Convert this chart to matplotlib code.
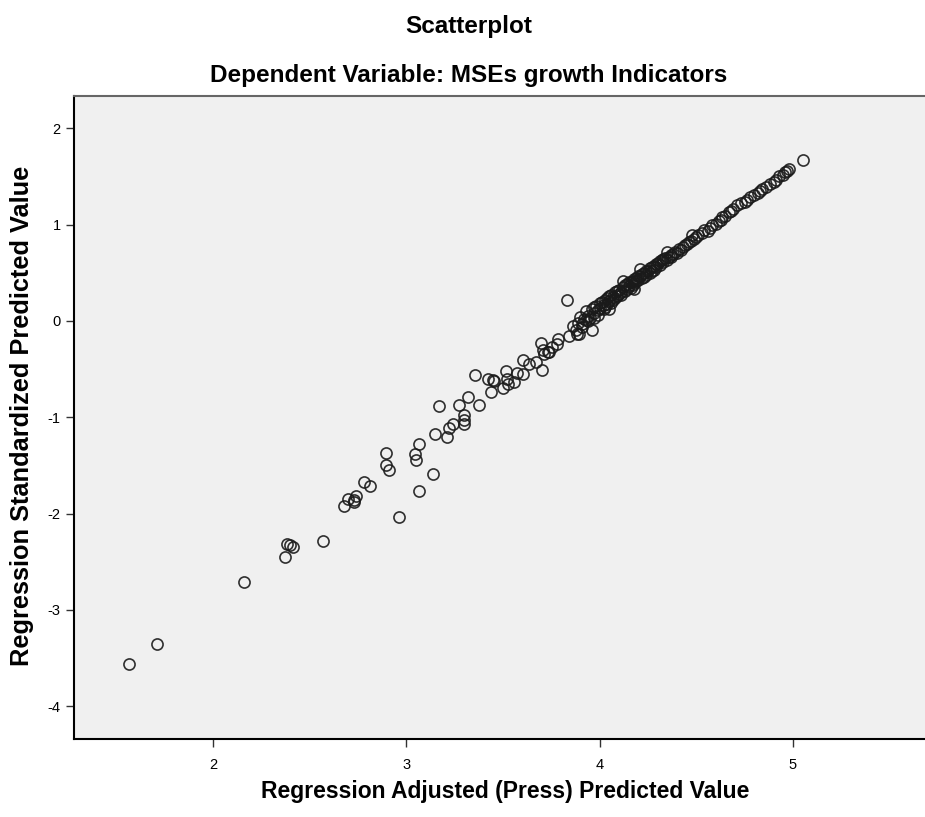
import matplotlib
matplotlib.use('Agg')
import matplotlib.pyplot as plt

plt.rcParams['font.family'] = ['Liberation Sans', 'DejaVu Sans']
plt.rcParams['axes.unicode_minus'] = False

#
# Data
#

# scattered lower tail
tail_x = [1.565, 1.710, 2.158, 2.375, 2.381, 2.399, 2.412, 2.570, 2.680, 2.700,
          2.730, 2.740, 2.730, 2.780, 2.810, 2.895, 2.895, 2.912, 2.960, 3.045,
          3.050, 3.067, 3.064, 3.138, 3.146, 3.170, 3.208, 3.219, 3.239, 3.274,
          3.317, 3.300, 3.300, 3.300, 3.374, 3.353, 3.420, 3.446, 3.438, 3.515,
          3.500, 3.524, 3.558, 3.575, 3.601, 3.605, 3.636, 3.670, 3.704, 3.696,
          3.713, 3.739, 3.756, 3.782, 3.833, 3.842, 3.894, 3.705, 3.731, 3.787,
          3.885, 3.911, 3.928, 3.963, 3.972, 3.455, 3.520]
tail_y = [-3.56, -3.35, -2.71, -2.45, -2.31, -2.33, -2.35, -2.28, -1.92, -1.85,
          -1.88, -1.82, -1.86, -1.67, -1.71, -1.367, -1.499, -1.551, -2.03, -1.385,
          -1.44, -1.281, -1.762, -1.589, -1.169, -0.883, -1.205, -1.111, -1.073, -0.875,
          -0.789, -0.979, -1.031, -1.073, -0.875, -0.563, -0.598, -0.615, -0.737, -0.519,
          -0.700, -0.650, -0.633, -0.540, -0.546, -0.400, -0.442, -0.425, -0.504, -0.228,
          -0.338, -0.321, -0.269, -0.234, 0.223, -0.158, -0.137, -0.300, -0.320, -0.192,
          -0.130, -0.060, 0.008, -0.095, 0.026, -0.620, -0.600]

# dense band along the line
band_x = [3.86, 3.88, 3.90, 3.91, 3.92, 3.93, 3.94, 3.95, 3.96, 3.97,
          3.98, 3.99, 4.00, 4.01, 4.02, 4.03, 4.03, 4.04, 4.05, 4.06,
          4.06, 4.07, 4.08, 4.09, 4.10, 4.10, 4.11, 4.12, 4.12, 4.13,
          4.14, 4.15, 4.16, 4.16, 4.17, 4.18, 4.19, 4.20, 4.21, 4.21,
          4.22, 4.23, 4.24, 4.25, 4.26, 4.27, 4.28, 4.29, 4.30, 4.31,
          4.32, 4.33, 4.34, 4.35, 4.36, 4.37, 4.38, 4.40, 4.41, 4.43,
          4.45, 4.46, 4.48, 4.49, 4.51, 4.53, 4.56, 4.58, 4.60, 4.62,
          4.635, 4.65, 4.67, 4.69, 4.71, 4.73, 4.76, 4.78, 4.80, 4.82,
          4.84, 4.86, 4.88, 4.91, 4.93, 4.95, 4.96, 4.98, 5.05,
          3.89, 3.94, 3.97, 3.99, 4.00, 4.02, 4.04, 4.05, 4.07, 4.08,
          4.09, 4.11, 4.13, 4.14, 4.15, 4.17, 4.18, 4.19, 4.20, 4.22,
          4.23, 4.24, 4.26, 4.27, 4.28, 4.29, 4.31, 4.33, 4.35, 4.37,
          4.39, 4.42, 4.44, 4.47, 4.50, 4.54, 4.57, 4.63, 4.68, 4.75,
          4.83, 4.90, 4.97, 4.05, 4.18]
band_y = [-0.05, -0.09, 0.04, -0.03, 0.02, 0.10, 0.05, 0.03, 0.12, 0.08,
          0.16, 0.11, 0.14, 0.20, 0.17, 0.22, 0.15, 0.24, 0.21, 0.27,
          0.19, 0.25, 0.30, 0.26, 0.32, 0.28, 0.30, 0.41, 0.35, 0.31,
          0.38, 0.36, 0.40, 0.34, 0.42, 0.39, 0.45, 0.43, 0.54, 0.47,
          0.45, 0.50, 0.48, 0.52, 0.55, 0.52, 0.57, 0.56, 0.60, 0.58,
          0.63, 0.61, 0.65, 0.72, 0.66, 0.69, 0.70, 0.71, 0.75, 0.77,
          0.80, 0.82, 0.89, 0.85, 0.89, 0.91, 0.93, 1.00, 1.01, 1.04,
          1.08, 1.09, 1.13, 1.16, 1.20, 1.22, 1.26, 1.29, 1.31, 1.33,
          1.37, 1.39, 1.42, 1.46, 1.50, 1.52, 1.55, 1.58, 1.67,
          -0.02, 0.00, 0.15, 0.06, 0.19, 0.12, 0.18, 0.26, 0.22, 0.24,
          0.31, 0.27, 0.37, 0.33, 0.40, 0.37, 0.44, 0.41, 0.47, 0.49,
          0.46, 0.52, 0.50, 0.56, 0.53, 0.59, 0.62, 0.64, 0.63, 0.66,
          0.72, 0.74, 0.79, 0.83, 0.87, 0.94, 0.97, 1.05, 1.14, 1.24,
          1.35, 1.44, 1.56, 0.12, 0.33]

x_ticks = [2, 3, 4, 5]
y_ticks = [-4, -3, -2, -1, 0, 1, 2]

#
# Graph
#

fig = plt.figure(figsize=(9.25, 8.17), dpi=100)
ax = fig.add_axes([0.08, 0.0955, 0.92, 0.7874])
ax.set_facecolor('#f0f0f0')

ax.plot(tail_x + band_x, tail_y + band_y, linestyle='none', marker='o',
        markersize=8, markerfacecolor='none', markeredgecolor='#1a1a1a',
        markeredgewidth=1.2, alpha=0.9)

ax.set_xlim(1.281, 5.683)
ax.set_ylim(-4.339, 2.339)
ax.set_xticks(x_ticks)
ax.set_yticks(y_ticks)
ax.tick_params(direction='out', length=6, width=1, labelsize=10.5, color='#333333')
ax.tick_params(axis='x', pad=8)

ax.spines['right'].set_visible(False)
ax.spines['left'].set_linewidth(1.5)
ax.spines['bottom'].set_linewidth(1.5)
ax.spines['top'].set_color('#666666')
ax.spines['top'].set_linewidth(1.5)

fig.text(0.024, 0.491, 'Regression Standardized Predicted Value', rotation=90,
         ha='center', va='center', fontsize=18.3, fontweight='bold')
fig.text(0.546, 0.017, 'Regression Adjusted (Press) Predicted Value', ha='center', va='bottom',
         fontsize=16.5, fontweight='bold')

fig.text(0.507, 0.968, 'Scatterplot', ha='center', va='center', fontsize=17.5, fontweight='bold')
fig.text(0.507, 0.908, 'Dependent Variable: MSEs growth Indicators', ha='center', va='center',
         fontsize=17.5, fontweight='bold')

fig.savefig('out.png', dpi=100)
